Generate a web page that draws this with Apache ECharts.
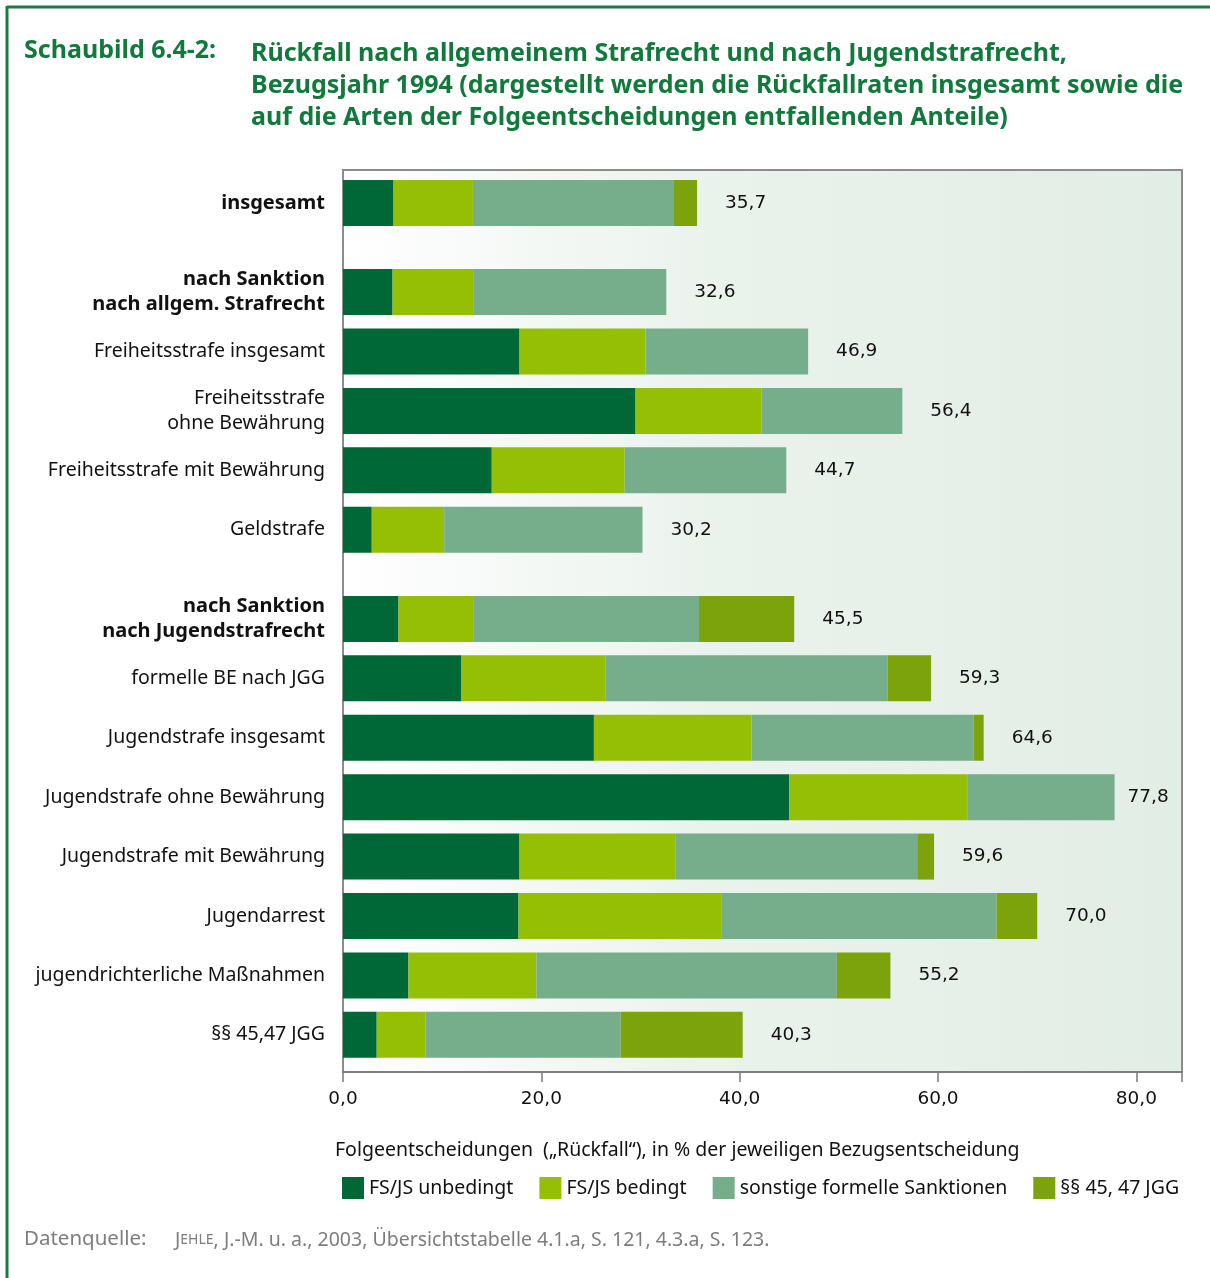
<!DOCTYPE html>
<html>
<head>
<meta charset="utf-8">
<script src="https://cdn.jsdelivr.net/npm/echarts@6/dist/echarts.min.js"></script>
<style>
html,body{margin:0;padding:0;background:#fff;}
#chart{width:1210px;height:1278px;}
</style>
</head>
<body>
<div id="chart"></div>
<script>
// ---- data ----
const categories = [
  'insgesamt',
  'nach Sanktion\nnach allgem. Strafrecht',
  'Freiheitsstrafe insgesamt',
  'Freiheitsstrafe\nohne Bewährung',
  'Freiheitsstrafe mit Bewährung',
  'Geldstrafe',
  'nach Sanktion\nnach Jugendstrafrecht',
  'formelle BE nach JGG',
  'Jugendstrafe insgesamt',
  'Jugendstrafe ohne Bewährung',
  'Jugendstrafe mit Bewährung',
  'Jugendarrest',
  'jugendrichterliche Maßnahmen',
  '§§ 45,47 JGG'
];
const boldCategories = ['insgesamt', 'nach Sanktion\nnach allgem. Strafrecht', 'nach Sanktion\nnach Jugendstrafrecht'];
const groupStarts = [1, 6]; // category indices that begin a new block
const seriesNames = ['FS/JS unbedingt', 'FS/JS bedingt', 'sonstige formelle Sanktionen', '§§ 45, 47 JGG'];
const fsjsUnbedingt = [5.1, 5.0, 17.8, 29.5, 15.0, 2.9, 5.6, 11.9, 25.3, 45.0, 17.8, 17.7, 6.6, 3.4];
const fsjsBedingt   = [8.0, 8.2, 12.7, 12.7, 13.4, 7.3, 7.6, 14.6, 15.9, 18.0, 15.7, 20.5, 12.9, 4.9];
const sonstige      = [20.2, 19.4, 16.4, 14.2, 16.3, 20.0, 22.7, 28.4, 22.4, 14.8, 24.4, 27.7, 30.3, 19.7];
const jgg4547       = [2.4, 0, 0, 0, 0, 0, 9.6, 4.4, 1.0, 0, 1.7, 4.1, 5.4, 12.3];
const totals        = [35.7, 32.6, 46.9, 56.4, 44.7, 30.2, 45.5, 59.3, 64.6, 77.8, 59.6, 70.0, 55.2, 40.3];
const xTicks = [0, 20, 40, 60, 80];
const xMax = 84.6;

const colors = ['#006837', '#94bf05', '#76ad8a', '#7ca20c'];

// build slot list (blank spacer slots between rows / blocks)
const slotLabels = [];
const slotIndex = [];
categories.forEach((c, i) => {
  if (i > 0) {
    slotLabels.push('');
    if (groupStarts.includes(i)) slotLabels.push('');
  }
  slotIndex.push(slotLabels.length);
  slotLabels.push(c);
});
function toSlots(arr, mapItem) {
  const out = slotLabels.map(() => '-');
  arr.forEach((v, i) => { out[slotIndex[i]] = mapItem ? mapItem(v) : v; });
  return out;
}
const deNum = v => Number(v).toFixed(1).replace('.', ',');

const chart = echarts.init(document.getElementById('chart'), null, {renderer: 'canvas'});
const FONT = 'Noto Sans';
const NUMFONT = 'DejaVu Sans';
const barW = 46;

const stackSeries = [fsjsUnbedingt, fsjsBedingt, sonstige, jgg4547].map((arr, k) => ({
  name: seriesNames[k],
  type: 'bar',
  stack: 'total',
  xAxisIndex: 1, yAxisIndex: 1,
  barWidth: barW,
  barGap: '-100%',
  clip: false,
  itemStyle: {color: colors[k]},
  emphasis: {disabled: true},
  data: toSlots(arr)
}));

const option = {
  animation: false,
  textStyle: {fontFamily: FONT},
  color: colors,
  grid: [
    {left: 343, top: 170, width: 839, height: 902,
     show: true,
     backgroundColor: new echarts.graphic.LinearGradient(0, 0, 1, 0, [
       {offset: 0, color: '#ffffff'},
       {offset: 0.45, color: '#eaf2ec'},
       {offset: 1, color: '#e2ede5'}
     ]),
     borderColor: '#8c8c8c', borderWidth: 2},
    {left: 343, top: 188.1, width: 839, height: 861.6}
  ],
  xAxis: [
    {type: 'value', gridIndex: 0, min: 0, max: xMax, interval: 20,
     splitLine: {show: false},
     axisLine: {show: true, lineStyle: {color: '#7a7a7a', width: 1.5}},
     axisTick: {show: true, length: 10, lineStyle: {color: '#7a7a7a', width: 1.5}},
     axisLabel: {margin: 18, fontSize: 18.5, color: '#111', fontFamily: NUMFONT,
       formatter: v => xTicks.includes(v) ? deNum(v) : ''}},
    {type: 'value', gridIndex: 1, min: 0, max: xMax, show: false}
  ],
  yAxis: [
    {type: 'value', gridIndex: 0, show: false},
    {type: 'category', gridIndex: 1, inverse: true, data: slotLabels,
     axisLine: {show: false}, axisTick: {show: false},
     axisLabel: {interval: 0, margin: 18, fontSize: 19.5, color: '#111', lineHeight: 25, align: 'right',
       fontFamily: FONT,
       formatter: v => boldCategories.includes(v) ? v.split('\n').map(l => '{b|' + l + '}').join('\n') : v,
       rich: {b: {fontWeight: 'bold', fontSize: 20, lineHeight: 25, color: '#111', fontFamily: FONT}}}}
  ],
  legend: {
    data: seriesNames,
    left: 337, top: 1172,
    itemWidth: 22, itemHeight: 22, itemGap: 26,
    icon: 'rect',
    selectedMode: false,
    textStyle: {fontSize: 19.5, color: '#111', fontFamily: FONT}
  },
  series: stackSeries.concat([{
    name: 'Summe',
    type: 'bar',
    xAxisIndex: 1, yAxisIndex: 1,
    barWidth: barW,
    barGap: '-100%',
    clip: false,
    z: 1,
    itemStyle: {color: 'rgba(0,0,0,0)'},
    emphasis: {disabled: true},
    label: {show: true, position: 'right', distance: 28, fontSize: 18.5, color: '#111', fontFamily: NUMFONT,
      formatter: p => deNum(p.value)},
    // labels of the longest bar sit closer to the bar end so they stay inside the frame
    data: toSlots(totals, v => v > 75 ? {value: v, label: {distance: 13}} : v)
  }]),
  graphic: [
    {type: 'line', shape: {x1: 7, y1: 7, x2: 1210, y2: 7}, style: {stroke: '#1b7a45', lineWidth: 3}},
    {type: 'line', shape: {x1: 7, y1: 6, x2: 7, y2: 1278}, style: {stroke: '#1b7a45', lineWidth: 3}},
    {type: 'text', left: 24, top: 38, style: {text: 'Schaubild 6.4-2:', fontSize: 25, fontWeight: 'bold',
      fill: '#12793c', fontFamily: FONT}},
    {type: 'text', left: 251, top: 38, style: {
      text: 'Rückfall nach allgemeinem Strafrecht und nach Jugendstrafrecht,\nBezugsjahr 1994 (dargestellt werden die Rückfallraten insgesamt sowie die\nauf die Arten der Folgeentscheidungen entfallenden Anteile)',
      fontSize: 25, fontWeight: 'bold', lineHeight: 32, fill: '#12793c', fontFamily: FONT}},
    {type: 'text', left: 335, top: 1140, style: {
      text: 'Folgeentscheidungen  („Rückfall“), in % der jeweiligen Bezugsentscheidung',
      fontSize: 19.5, fill: '#111', fontFamily: FONT}},
    {type: 'text', left: 24, top: 1229, style: {text: 'Datenquelle:', fontSize: 20.5, fill: '#7d7d7d', fontFamily: FONT}},
    {type: 'text', left: 175, top: 1230, style: {
      text: '{a|J}{s|EHLE}{a|, J.-M. u. a., 2003, Übersichtstabelle 4.1.a, S. 121, 4.3.a, S. 123.}',
      rich: {a: {fontSize: 19.5, fill: '#7d7d7d', fontFamily: FONT},
             s: {fontSize: 14, fill: '#7d7d7d', fontFamily: FONT}}}}
  ]
};
chart.setOption(option);
</script>
</body>
</html>
